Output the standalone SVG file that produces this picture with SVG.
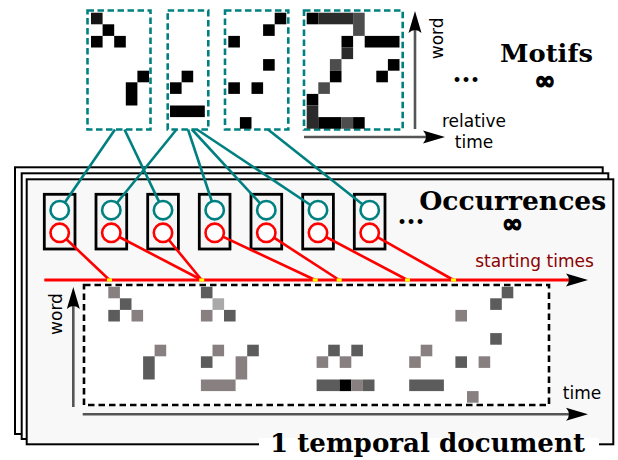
<svg xmlns="http://www.w3.org/2000/svg" width="618" height="460" viewBox="0 0 618 460">
<defs>
<style>
.mbox{fill:#fff;stroke:#008080;stroke-width:2.6;stroke-dasharray:6.5,3.5}
.k{fill:#000}.k1{fill:#141414}.k2{fill:#2b2b2b}.k3{fill:#4d4d4d}
.D{fill:#5c5c5c}.B{fill:#877f80}.L{fill:#a9a9a9}.K{fill:#000}
.obox{fill:#f5f5f5;stroke:#000;stroke-width:2.8}
.tc{fill:#fff;stroke:#008080;stroke-width:2.6}
.rc{fill:#fff;stroke:#ff0000;stroke-width:2.6}
.teal{stroke:#008080;stroke-width:2.6;fill:none}
.red{stroke:#ff0000;stroke-width:2.6;fill:none}
.axis{stroke:#555;stroke-width:2.6;fill:none}
.sheet{stroke:#000;stroke-width:2;fill:#fff}
.sans{font-family:"DejaVu Sans","Liberation Sans",sans-serif;font-size:17px;fill:#000}
.big{font-family:"DejaVu Serif","Liberation Serif",serif;font-weight:bold;fill:#000}
.inf{font-family:"DejaVu Sans","Liberation Sans",sans-serif;font-weight:bold;font-size:25px;fill:#000;stroke:#000;stroke-width:1.3}
.yel{fill:#ffff00}
</style>
<marker id="ah" markerUnits="userSpaceOnUse" markerWidth="26" markerHeight="16" viewBox="-14 -8 26 16" refX="0" refY="0" orient="auto">
<path d="M10,0 L-12,-6.5 Q-6,0 -12,6.5 Z" fill="#000"/>
</marker>
</defs>
<rect width="618" height="460" fill="#fff"/>

<g id="document">
<rect class="sheet" x="15" y="167.3" width="587.7" height="266.7"/>
<rect class="sheet" x="21.7" y="173.3" width="586.6" height="265.7"/>
<rect class="sheet" x="26.7" y="179.3" width="586.6" height="265" style="fill:#f8f8f8"/>
<rect x="259" y="438" width="340" height="12" fill="#fff"/>
<rect x="84" y="285" width="465" height="120" fill="#fff" stroke="#000" stroke-width="2.6" stroke-dasharray="6.5,4"/>
<g id="doc-cells">
<rect class="B" x="108.3" y="286.7" width="11.6" height="11.6"/>
<rect class="D" x="119.9" y="298.3" width="11.6" height="11.6"/>
<rect class="D" x="108.3" y="309.9" width="11.6" height="11.6"/>
<rect class="B" x="131.5" y="309.9" width="11.6" height="11.6"/>
<rect class="B" x="154.6" y="344.7" width="11.6" height="11.6"/>
<rect class="D" x="143.1" y="356.3" width="11.6" height="23.2"/>

<rect class="D" x="200.9" y="286.7" width="11.6" height="11.6"/>
<rect class="L" x="212.5" y="298.3" width="11.6" height="11.6"/>
<rect class="B" x="200.9" y="309.9" width="11.6" height="11.6"/>
<rect class="D" x="224.0" y="309.9" width="11.6" height="11.6"/>
<rect class="B" x="212.5" y="344.7" width="11.6" height="11.6"/>
<rect class="D" x="247.2" y="344.7" width="11.6" height="11.6"/>
<rect class="D" x="200.9" y="356.3" width="11.6" height="11.6"/>
<rect class="B" x="235.6" y="356.3" width="11.6" height="23.2"/>
<rect class="B" x="200.9" y="379.5" width="34.7" height="11.6"/>

<rect class="D" x="328.2" y="344.7" width="11.6" height="11.6"/>
<rect class="D" x="351.3" y="344.7" width="11.6" height="11.6"/>
<rect class="B" x="316.6" y="356.3" width="11.6" height="11.6"/>
<rect class="B" x="339.7" y="356.3" width="11.6" height="11.6"/>
<rect class="D" x="316.6" y="379.5" width="23.2" height="11.6"/>
<rect class="K" x="339.7" y="379.5" width="11.6" height="11.6"/>
<rect class="B" x="351.3" y="379.5" width="11.6" height="11.6"/>
<rect class="D" x="362.9" y="379.5" width="11.6" height="11.6"/>

<rect class="B" x="420.7" y="344.7" width="11.6" height="11.6"/>
<rect class="B" x="409.2" y="356.3" width="11.6" height="11.6"/>
<rect class="D" x="409.2" y="379.5" width="34.7" height="11.6"/>

<rect class="D" x="501.7" y="286.7" width="11.6" height="11.6"/>
<rect class="D" x="490.2" y="298.3" width="11.6" height="11.6"/>
<rect class="B" x="455.4" y="309.9" width="11.6" height="11.6"/>
<rect class="D" x="490.2" y="333.1" width="11.6" height="11.6"/>
<rect class="D" x="455.4" y="356.3" width="11.6" height="11.6"/>
<rect class="B" x="478.6" y="356.3" width="11.6" height="11.6"/>
<rect class="B" x="467.0" y="391.1" width="11.6" height="11.6"/>
</g>
<line class="axis" x1="73.3" y1="407" x2="73.3" y2="297" marker-end="url(#ah)"/>
<line class="axis" x1="82.7" y1="414.3" x2="578" y2="414.3" marker-end="url(#ah)"/>
<text class="sans" transform="translate(61.5,314) rotate(-90)" text-anchor="middle">word</text>
<text class="sans" x="582" y="399" text-anchor="middle">time</text>
<text class="big" x="427.5" y="451.7" font-size="26" text-anchor="middle" textLength="315" lengthAdjust="spacingAndGlyphs">1 temporal document</text>
</g>

<g id="motif-axes">
<line class="axis" x1="415" y1="129" x2="415" y2="21" marker-end="url(#ah)"/>
<line class="axis" x1="304" y1="137" x2="435" y2="137" marker-end="url(#ah)"/>
<text class="sans" transform="translate(442.5,38.3) rotate(-90)" text-anchor="middle">word</text>
<text class="sans" x="474" y="126.7" text-anchor="middle">relative</text>
<text class="sans" x="474" y="147.7" text-anchor="middle">time</text>
</g>

<g id="motif1">
<rect class="mbox" x="87.5" y="10.5" width="63" height="119"/>
<rect class="k1" x="91" y="12.7" width="11.6" height="11.6"/>
<rect class="k" x="102.6" y="24.3" width="11.6" height="11.6"/>
<rect class="k" x="91" y="35.9" width="11.6" height="11.6"/>
<rect class="k" x="114.2" y="35.9" width="11.6" height="11.6"/>
<rect class="k" x="137.4" y="70.7" width="11.6" height="11.6"/>
<rect class="k" x="125.8" y="82.3" width="11.6" height="23.2"/>
</g>
<g id="motif2">
<rect class="mbox" x="167.7" y="10.5" width="40.6" height="119"/>
<rect class="k" x="181.6" y="70.7" width="11.6" height="11.6"/>
<rect class="k" x="170" y="82.3" width="11.6" height="11.6"/>
<rect class="k" x="170" y="105.5" width="34.8" height="11.6"/>
</g>
<g id="motif3">
<rect class="mbox" x="225" y="10.5" width="63.3" height="119"/>
<rect class="k" x="274.7" y="12.7" width="11.6" height="11.6"/>
<rect class="k" x="263.1" y="24.3" width="11.6" height="11.6"/>
<rect class="k" x="228.3" y="35.9" width="11.6" height="11.6"/>
<rect class="k" x="263.1" y="59.1" width="11.6" height="11.6"/>
<rect class="k" x="228.3" y="82.3" width="11.6" height="11.6"/>
<rect class="k" x="251.5" y="82.3" width="11.6" height="11.6"/>
<rect class="k" x="239.9" y="117.1" width="11.6" height="11.6"/>
</g>
<g id="motif4">
<rect class="mbox" x="304" y="10.5" width="98.7" height="119"/>
<rect class="k" x="306.7" y="12.7" width="11.6" height="11.6"/>
<rect class="k2" x="318.3" y="12.7" width="34.8" height="11.6"/>
<rect class="k3" x="353.1" y="12.7" width="11.6" height="23.2"/>
<rect class="k" x="341.5" y="35.9" width="11.6" height="11.6"/>
<rect class="k" x="364.7" y="35.9" width="34.8" height="11.6"/>
<rect class="k2" x="341.5" y="47.5" width="11.6" height="11.6"/>
<rect class="k3" x="329.9" y="59.1" width="11.6" height="11.6"/>
<rect class="k" x="387.9" y="59.1" width="11.6" height="11.6"/>
<rect class="k" x="329.9" y="70.7" width="11.6" height="11.6"/>
<rect class="k" x="376.3" y="70.7" width="11.6" height="11.6"/>
<rect class="k3" x="318.3" y="82.3" width="11.6" height="11.6"/>
<rect class="k" x="306.7" y="93.9" width="11.6" height="11.6"/>
<rect class="k2" x="306.7" y="105.5" width="11.6" height="23.2"/>
<rect class="k" x="318.3" y="117.1" width="23.2" height="11.6"/>
<rect class="k3" x="341.5" y="117.1" width="11.6" height="11.6"/>
<rect class="k" x="353.1" y="117.1" width="11.6" height="11.6"/>
</g>
<g id="motif-labels">
<text class="big" x="466" y="81.5" font-size="26" text-anchor="middle">...</text>
<text class="big" x="546.5" y="61.7" font-size="25" text-anchor="middle" textLength="93" lengthAdjust="spacingAndGlyphs">Motifs</text>
<text class="inf" x="545" y="88.5" text-anchor="middle">∞</text>
</g>

<g id="occ1"><rect class="obox" x="44.3" y="194.3" width="30.7" height="54.7"/><circle class="tc" cx="59.7" cy="210.2" r="9.2"/><circle class="rc" cx="59.7" cy="232.8" r="9.2"/></g>
<g id="occ2"><rect class="obox" x="96" y="194.3" width="30.7" height="54.7"/><circle class="tc" cx="111.3" cy="210.2" r="9.2"/><circle class="rc" cx="111.3" cy="232.8" r="9.2"/></g>
<g id="occ3"><rect class="obox" x="147.7" y="194.3" width="30.7" height="54.7"/><circle class="tc" cx="163" cy="210.2" r="9.2"/><circle class="rc" cx="163" cy="232.8" r="9.2"/></g>
<g id="occ4"><rect class="obox" x="199.3" y="194.3" width="30.7" height="54.7"/><circle class="tc" cx="214.7" cy="210.2" r="9.2"/><circle class="rc" cx="214.7" cy="232.8" r="9.2"/></g>
<g id="occ5"><rect class="obox" x="251" y="194.3" width="30.7" height="54.7"/><circle class="tc" cx="266.3" cy="210.2" r="9.2"/><circle class="rc" cx="266.3" cy="232.8" r="9.2"/></g>
<g id="occ6"><rect class="obox" x="302.7" y="194.3" width="30.7" height="54.7"/><circle class="tc" cx="318" cy="210.2" r="9.2"/><circle class="rc" cx="318" cy="232.8" r="9.2"/></g>
<g id="occ7"><rect class="obox" x="354.3" y="194.3" width="30.7" height="54.7"/><circle class="tc" cx="369.7" cy="210.2" r="9.2"/><circle class="rc" cx="369.7" cy="232.8" r="9.2"/></g>
<g id="occ-labels">
<text class="big" x="411" y="224" font-size="26" text-anchor="middle">...</text>
<text class="big" x="512.7" y="210" font-size="26" text-anchor="middle" textLength="187" lengthAdjust="spacingAndGlyphs">Occurrences</text>
<text class="inf" x="512.5" y="231.5" text-anchor="middle">∞</text>
</g>

<g id="connectors">
<line class="teal" x1="115" y1="129.5" x2="64.8" y2="202.6"/>
<line class="teal" x1="176.5" y1="129.5" x2="116.9" y2="203"/>
<line class="teal" x1="124.5" y1="129.5" x2="159.1" y2="201.9"/>
<line class="teal" x1="188" y1="129.5" x2="211.9" y2="201.5"/>
<line class="teal" x1="192" y1="129.5" x2="260.2" y2="203.4"/>
<line class="teal" x1="197" y1="129.5" x2="310.5" y2="205"/>
<line class="teal" x1="268" y1="129.5" x2="362.7" y2="204.4"/>
<line class="red" x1="66.2" y1="239" x2="109.5" y2="280"/>
<line class="red" x1="119.3" y1="237" x2="201.7" y2="280"/>
<line class="red" x1="168.7" y1="239.8" x2="201.7" y2="280"/>
<line class="red" x1="222.8" y1="236.6" x2="315.2" y2="280"/>
<line class="red" x1="273.9" y1="237.7" x2="339.2" y2="280"/>
<line class="red" x1="326" y1="237" x2="407.5" y2="280"/>
<line class="red" x1="377.5" y1="237.2" x2="453.5" y2="280"/>
</g>

<g id="timeline">
<line x1="44.3" y1="280" x2="578" y2="280" stroke="#ff0000" stroke-width="3" marker-end="url(#ah)"/>
<rect class="yel" x="107" y="278.4" width="5" height="3.2"/>
<rect class="yel" x="199.2" y="278.4" width="5" height="3.2"/>
<rect class="yel" x="312.7" y="278.4" width="5" height="3.2"/>
<rect class="yel" x="336.7" y="278.4" width="5" height="3.2"/>
<rect class="yel" x="405" y="278.4" width="5" height="3.2"/>
<rect class="yel" x="451" y="278.4" width="5" height="3.2"/>
<text class="sans" x="534.5" y="267.3" text-anchor="middle" style="fill:#8b0000">starting times</text>
</g>
</svg>
